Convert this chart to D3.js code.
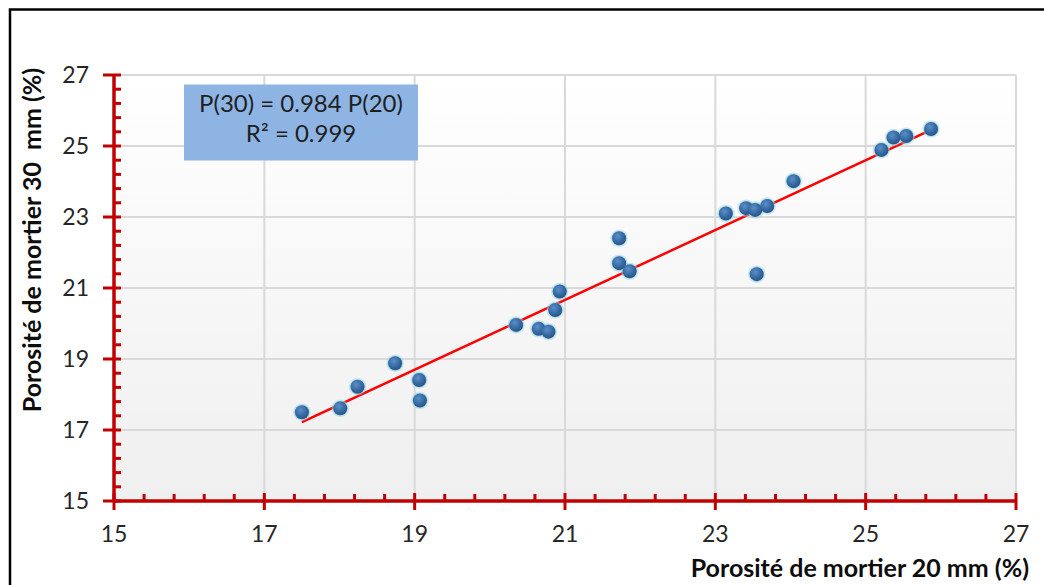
<!DOCTYPE html>
<html>
<head>
<meta charset="utf-8">
<script src="https://cdn.jsdelivr.net/npm/d3@7"></script>
<style>
  html, body { margin: 0; padding: 0; background: #fff; }
  svg { display: block; }
  text { font-family: Lato, "Open Sans", sans-serif; white-space: pre; }
</style>
</head>
<body>
<svg id="chart" width="1044" height="585"></svg>
<script>
// ---- data ----
const poro20 = [17.50, 18.01, 18.24, 18.74, 19.06, 19.07, 20.35, 20.65, 20.78, 20.87, 20.93, 21.72, 21.72, 21.86, 23.14, 23.41, 23.53, 23.55, 23.69, 24.04, 25.21, 25.37, 25.54, 25.87];
const poro30 = [17.50, 17.61, 18.22, 18.88, 18.41, 17.83, 19.96, 19.85, 19.77, 20.38, 20.90, 22.40, 21.70, 21.47, 23.10, 23.25, 23.20, 21.39, 23.31, 24.01, 24.89, 25.24, 25.28, 25.48];
const trendSlope = 0.984;
const xTicks = [15, 17, 19, 21, 23, 25, 27];
const yTicks = [15, 17, 19, 21, 23, 25, 27];
const equationLines = ["P(30) = 0.984 P(20)", "R² = 0.999"];
const xTitle = "Porosité de mortier 20 mm (%)";
const yTitle = "Porosité de mortier 30  mm (%)";

// ---- layout ----
const svg = d3.select("#chart");
const L = 114, R = 1016, T = 75, B = 501;
const x = d3.scaleLinear().domain([15, 27]).range([L, R]);
const y = d3.scaleLinear().domain([15, 27]).range([B, T]);
const red = "#c00000";

const defs = svg.append("defs");
const bg = defs.append("linearGradient").attr("id", "bg").attr("x1", 0).attr("y1", 0).attr("x2", 0).attr("y2", 1);
bg.append("stop").attr("offset", "0%").attr("stop-color", "#ffffff");
bg.append("stop").attr("offset", "100%").attr("stop-color", "#efefef");
const ball = defs.append("radialGradient").attr("id", "ball").attr("cx", "40%").attr("cy", "35%").attr("r", "65%");
ball.append("stop").attr("offset", "0%").attr("stop-color", "#5a8fca");
ball.append("stop").attr("offset", "70%").attr("stop-color", "#33659c");
ball.append("stop").attr("offset", "100%").attr("stop-color", "#2a5688");
const glow = defs.append("radialGradient").attr("id", "glow");
glow.append("stop").attr("offset", "60%").attr("stop-color", "#6fc0d6").attr("stop-opacity", 1);
glow.append("stop").attr("offset", "100%").attr("stop-color", "#9fd8e6").attr("stop-opacity", 0.25);

// outer border
svg.append("rect").attr("x", 10).attr("y", 9.5).attr("width", 1050).attr("height", 600)
  .attr("fill", "#fff").attr("stroke", "#000").attr("stroke-width", 2.5);

// plot background
svg.append("rect").attr("x", L).attr("y", T).attr("width", R - L).attr("height", B - T).attr("fill", "url(#bg)");

// grid
svg.append("g").selectAll("line").data(xTicks.slice(1)).join("line")
  .attr("x1", d => x(d)).attr("x2", d => x(d)).attr("y1", T).attr("y2", B)
  .attr("stroke", "#d9d9d9").attr("stroke-width", 2);
svg.append("g").selectAll("line").data(yTicks.slice(1)).join("line")
  .attr("y1", d => y(d)).attr("y2", d => y(d)).attr("x1", L).attr("x2", R)
  .attr("stroke", "#d9d9d9").attr("stroke-width", 2);

// minor tick values (every 0.4 between majors)
const minorVals = d3.range(0, 31).map(i => 15 + i * 0.4).filter(v => Math.abs(((v - 15) / 2) - Math.round((v - 15) / 2)) > 0.01);

// x axis
svg.append("g").selectAll("line").data(minorVals).join("line")
  .attr("x1", d => x(d)).attr("x2", d => x(d)).attr("y1", B - 7).attr("y2", B)
  .attr("stroke", red).attr("stroke-width", 3);
svg.append("g").selectAll("line").data(xTicks).join("line")
  .attr("x1", d => x(d)).attr("x2", d => x(d)).attr("y1", B - 8).attr("y2", B + 9)
  .attr("stroke", red).attr("stroke-width", 3);
svg.append("line").attr("x1", L).attr("x2", R).attr("y1", B).attr("y2", B).attr("stroke", red).attr("stroke-width", 3.5);
svg.append("g").selectAll("text").data(xTicks).join("text")
  .attr("x", d => x(d)).attr("y", 542).attr("text-anchor", "middle")
  .attr("font-size", 23).attr("fill", "#262626").text(d => d);

// y axis
svg.append("g").selectAll("line").data(minorVals).join("line")
  .attr("y1", d => y(d)).attr("y2", d => y(d)).attr("x1", L).attr("x2", L + 7)
  .attr("stroke", red).attr("stroke-width", 3);
svg.append("g").selectAll("line").data(yTicks).join("line")
  .attr("y1", d => y(d)).attr("y2", d => y(d)).attr("x1", L - 11).attr("x2", L + 7)
  .attr("stroke", red).attr("stroke-width", 3);
svg.append("line").attr("x1", L).attr("x2", L).attr("y1", T).attr("y2", B).attr("stroke", red).attr("stroke-width", 3.5);
svg.append("g").selectAll("text").data(yTicks).join("text")
  .attr("x", 89).attr("y", d => y(d)).attr("dy", "0.36em").attr("text-anchor", "end")
  .attr("font-size", 23).attr("fill", "#262626").text(d => d);

// trend line
const xMin = d3.min(poro20), xMax = d3.max(poro20);
svg.append("line")
  .attr("x1", x(xMin)).attr("y1", y(trendSlope * xMin))
  .attr("x2", x(xMax)).attr("y2", y(trendSlope * xMax))
  .attr("stroke", "#ff0000").attr("stroke-width", 2.5);

// points
const pts = poro20.map((v, i) => [v, poro30[i]]);
const pg = svg.append("g");
pg.selectAll("circle.g").data(pts).join("circle").attr("class", "g")
  .attr("cx", d => x(d[0])).attr("cy", d => y(d[1])).attr("r", 9).attr("fill", "url(#glow)");
pg.selectAll("circle.b").data(pts).join("circle").attr("class", "b")
  .attr("cx", d => x(d[0])).attr("cy", d => y(d[1])).attr("r", 7).attr("fill", "url(#ball)");

// equation box
svg.append("rect").attr("x", 184).attr("y", 84.5).attr("width", 234).attr("height", 76).attr("fill", "#8eb4e3");
svg.append("g").selectAll("text").data(equationLines).join("text")
  .attr("x", 301).attr("y", (d, i) => 112 + i * 29.5).attr("text-anchor", "middle")
  .attr("font-size", 24).attr("fill", "#1f1f1f").text(d => d);

// axis titles
svg.append("text").attr("x", 1029).attr("y", 577).attr("text-anchor", "end")
  .attr("font-size", 25).attr("font-weight", "bold").attr("fill", "#0d0d0d").text(xTitle);
svg.append("text").attr("transform", "translate(41,240) rotate(-90)").attr("text-anchor", "middle")
  .attr("font-size", 25).attr("font-weight", "bold").attr("fill", "#0d0d0d").text(yTitle);
</script>
</body>
</html>
